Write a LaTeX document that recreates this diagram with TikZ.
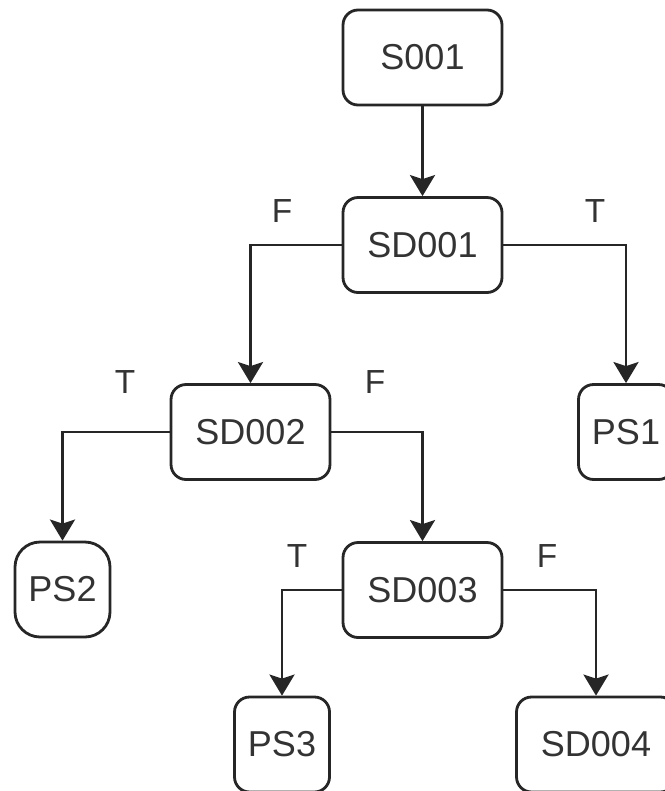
\documentclass[tikz,border=0pt]{standalone}
\usepackage{fontspec}
\setmainfont{Liberation Sans}
\usetikzlibrary{arrows.meta}
\begin{document}
\begin{tikzpicture}[x=0.02cm, y=-0.02cm, every node/.style={font=\fontsize{20.5}{24}\selectfont, text=black!80}]
  \tikzstyle{box}=[draw=black!85, rounded corners=0.3cm, line width=1.6pt, minimum width=3.18cm, minimum height=1.9cm, inner sep=0pt]
  \tikzstyle{leaf}=[box, minimum width=1.9cm]
  \tikzstyle{lab}=[font=\fontsize{19}{22}\selectfont]
  \tikzstyle{link}=[draw=black!85, line width=1.6pt, -{Stealth[length=0.42cm,width=0.5cm,inset=0.08cm]}]
  \clip (0,0) rectangle (665,791);
  \node[box] (s1) at (422.5,57.5) {S001};
  \node[box] (sd1) at (422.5,245) {SD001};
  \node[box] (sd2) at (250.5,432) {SD002};
  \node[leaf] (ps1) at (626,432) {PS1};
  \node[leaf,rounded corners=0.5cm] (ps2) at (62.5,589.5) {PS2};
  \node[box] (sd3) at (422.5,590) {SD003};
  \node[leaf] (ps3) at (282,744.5) {PS3};
  \node[box] (sd4) at (596,744.5) {SD004};
  \draw[link] (s1) -- (sd1);
  \draw[link] (sd1.west) -| (sd2);
  \draw[link] (sd1.east) -| (ps1);
  \draw[link] (sd2.west) -| (ps2);
  \draw[link] (sd2.east) -| (sd3);
  \draw[link] (sd3.west) -| (ps3);
  \draw[link] (sd3.east) -| (sd4);
  \node[lab] (f1) at (282,211) {F};
  \node[lab] (t1) at (595,211) {T};
  \node[lab] (t2) at (125,382) {T};
  \node[lab] (f2) at (375,382) {F};
  \node[lab] (t3) at (297,556) {T};
  \node[lab] (f3) at (547,556) {F};
\end{tikzpicture}
\end{document}
